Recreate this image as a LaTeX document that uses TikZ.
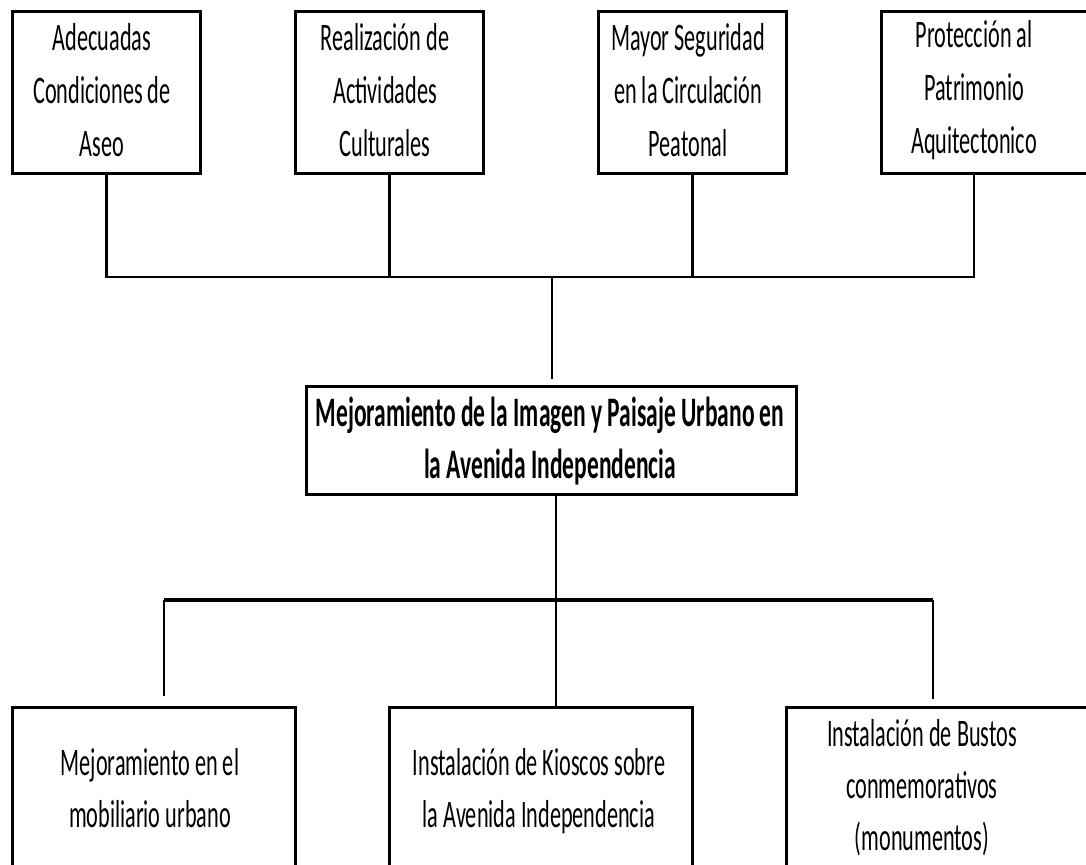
\documentclass[tikz,border=0pt]{standalone}
\usepackage{fontspec}
\setmainfont{Carlito}[FakeStretch=0.57, BoldFeatures={FakeStretch=0.56}]
\begin{document}
\begin{tikzpicture}[x=1pt,y=-1pt,
  box/.style={draw=black, line width=2.8pt, rectangle, inner sep=0pt, anchor=north west},
  txt/.style={align=center, inner sep=0pt, font=\fontsize{39}{53}\selectfont},
  stxt/.style={align=center, inner sep=0pt, font=\fontsize{39}{52}\selectfont},
  btxt/.style={align=center, inner sep=0pt, font=\fontsize{42}{52}\selectfont\bfseries},
  conn/.style={draw=black, line width=2.2pt},
  hconn/.style={draw=black, line width=3.2pt}]
\useasboundingbox (0,0) rectangle (1086,864);
\clip (0,0) rectangle (1086,864);
% top boxes
\node[box, minimum width=188pt, minimum height=162pt] (b1) at (11,10) {};
\node[box, minimum width=188pt, minimum height=162pt] (b2) at (294,10) {};
\node[box, minimum width=188pt, minimum height=162pt] (b3) at (597,10) {};
\node[box, minimum width=230pt, minimum height=162pt] (b4) at (880,10) {};
\node[txt] (t1) at (102,90) {Adecuadas\\Condiciones de\\Aseo};
\node[txt] (t2) at (385,90) {Realización de\\Actividades\\Culturales};
\node[txt] (t3) at (688,90) {Mayor Seguridad\\en la Circulación\\Peatonal};
\node[txt] (t4) at (974,90) {Protección al\\Patrimonio\\Aquitectonico};
% centre box
\node[box, minimum width=490pt, minimum height=108pt] (c) at (305,385) {};
\node[btxt] (tc) at (550,441) {Mejoramiento de la Imagen y Paisaje Urbano en\\la Avenida Independencia};
% bottom boxes
\node[box, minimum width=283pt, minimum height=164pt] (b5) at (11,706) {};
\node[box, minimum width=303pt, minimum height=164pt] (b6) at (388,706) {};
\node[box, minimum width=320pt, minimum height=164pt] (b7) at (785,706) {};
\node[stxt] (t5) at (150,788) {Mejoramiento en el\\mobiliario urbano};
\node[stxt] (t6) at (539,791) {Instalación de Kioscos sobre\\la Avenida Independencia};
\node[stxt] (t7) at (922,788) {Instalación de Bustos\\conmemorativos\\(monumentos)};
% junctions
\coordinate (jt) at (552,277);
\coordinate (jb) at (556,600);
\coordinate (hl) at (164,600);
\coordinate (hr) at (933,600);
% top connectors
\draw[conn] (b1.south) |- (jt);
\draw[conn] (b2.south) |- (jt);
\draw[conn] (t4 |- b4.south) |- (jt);
\draw[conn] (b3.south) -- (b3.south |- jt);
\draw[conn, shorten >=6pt] (jt) -- (jt |- c.north);
% bottom connectors
\draw[conn] (jb |- c.south) -- (jb) -- (jb |- b6.north);
\draw[hconn] (hl) -- (hr);
\draw[conn, shorten >=10pt] (hl) -- (hl |- b5.north);
\draw[conn, shorten >=7pt] (hr) -- (hr |- b7.north);
\end{tikzpicture}
\end{document}
